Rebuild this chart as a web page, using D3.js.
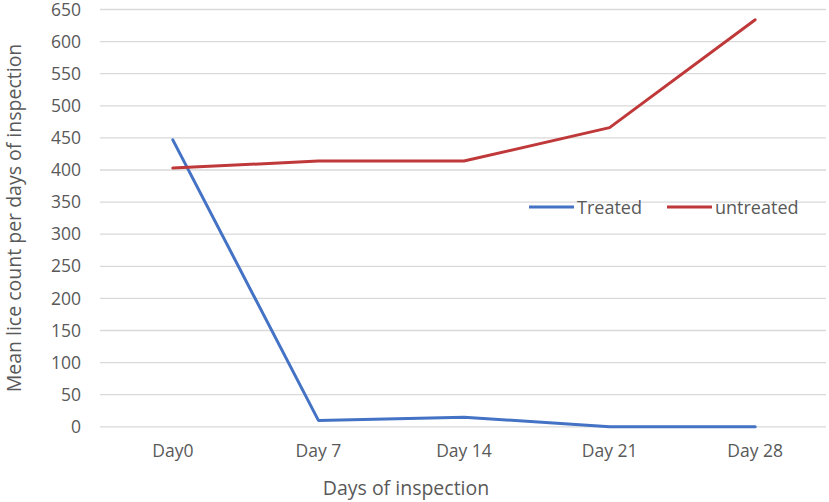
<!DOCTYPE html>
<html>
<head>
<meta charset="utf-8">
<script src="https://cdn.jsdelivr.net/npm/d3@7/dist/d3.min.js"></script>
<style>
html,body{margin:0;padding:0;background:#fff;}
svg{display:block;font-family:"Open Sans",sans-serif;}
</style>
</head>
<body>
<svg id="chart" width="829" height="502"></svg>
<script>
const categories = ["Day0", "Day 7", "Day 14", "Day 21", "Day 28"];
const treated = [447, 10, 15, 0, 0];
const untreated = [403, 414, 414, 466, 634];
const yTicks = [0, 50, 100, 150, 200, 250, 300, 350, 400, 450, 500, 550, 600, 650];
const seriesNames = ["Treated", "untreated"];
const seriesColors = ["#4472C4", "#C0393A"];
const FONT = "'Open Sans',sans-serif";

const svg = d3.select("#chart");
const x = d3.scaleBand().domain(categories).range([100, 828]);
const y = d3.scaleLinear().domain([0, 650]).range([426.8, 9.5]);

// gridlines
svg.append("g").selectAll("line").data(yTicks).join("line")
  .attr("x1", 100).attr("x2", 826)
  .attr("y1", d => y(d)).attr("y2", d => y(d))
  .attr("stroke", "#d9d9d9").attr("stroke-width", 1.3);

// y axis labels
const yAxis = d3.axisLeft(y).tickValues(yTicks).tickSize(0).tickPadding(0);
const gy = svg.append("g").attr("transform", "translate(81,0)").call(yAxis);
gy.select(".domain").remove();
gy.selectAll("text").attr("font-size", 17.5).attr("fill", "#595959").style("font-family", FONT);

// x axis labels
const xAxis = d3.axisBottom(x).tickSize(0).tickPadding(0);
const gx = svg.append("g").attr("transform", "translate(0,445)").call(xAxis);
gx.select(".domain").remove();
gx.selectAll("text").attr("font-size", 17.5).attr("fill", "#595959").style("font-family", FONT);

// lines
const line = d3.line().x((d, i) => x(categories[i]) + x.bandwidth() / 2).y(d => y(d));
[treated, untreated].forEach((s, k) => {
  svg.append("path").datum(s).attr("d", line)
    .attr("fill", "none").attr("stroke", seriesColors[k])
    .attr("stroke-width", 3).attr("stroke-linejoin", "round").attr("stroke-linecap", "round");
});

// legend
const legX = [529, 667];
seriesNames.forEach((n, k) => {
  const g = svg.append("g").attr("transform", `translate(${legX[k]},207)`);
  g.append("line").attr("x1", 0).attr("x2", 45).attr("y1", 0).attr("y2", 0)
    .attr("stroke", seriesColors[k]).attr("stroke-width", 3);
  g.append("text").attr("x", 48).attr("y", 6.5).attr("font-size", 18).attr("fill", "#595959").text(n);
});

// axis titles
svg.append("text").attr("x", 406).attr("y", 495).attr("text-anchor", "middle")
  .attr("font-size", 19.5).attr("fill", "#595959").text("Days of inspection");
svg.append("text").attr("transform", "translate(21,218) rotate(-90)").attr("text-anchor", "middle")
  .attr("font-size", 19.5).attr("fill", "#595959").text("Mean lice count per days of inspection");
</script>
</body>
</html>
